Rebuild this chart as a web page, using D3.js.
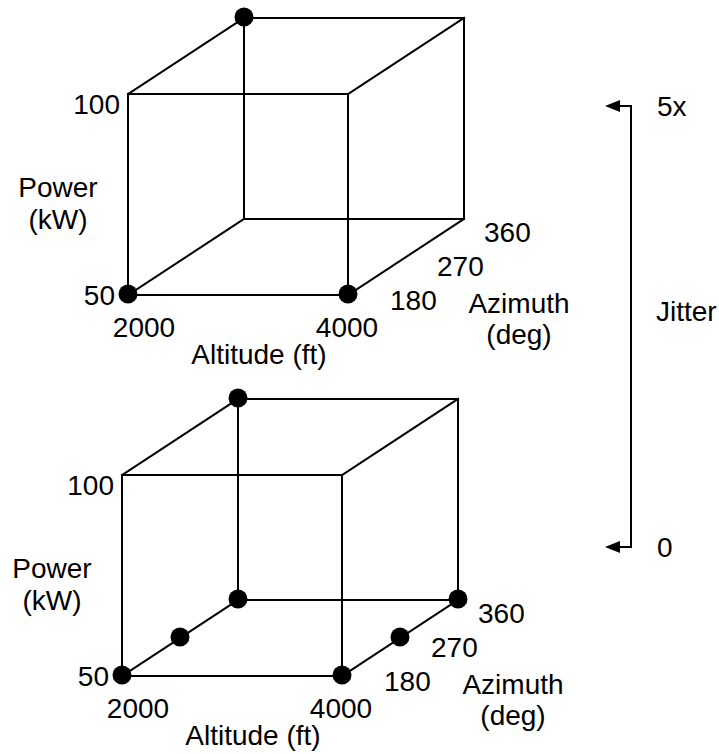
<!DOCTYPE html>
<html>
<head>
<meta charset="utf-8">
<script src="https://cdn.jsdelivr.net/npm/d3@7"></script>
<style>
  html, body { margin: 0; padding: 0; background: #fff; }
  svg { display: block; }
  text { font-family: "Liberation Sans", Arial, Helvetica, sans-serif; font-size: 28px; fill: #000; }
</style>
</head>
<body>
<svg id="chart" width="719" height="754"></svg>
<script>
// ---- data ----
const altitudeTicks = [2000, 4000];
const powerTicks = [50, 100];
const azimuthTicks = [180, 270, 360];
const jitterTicks = [0, 5];
const jitterLabels = ["0", "5x"];

// top cube (jitter 5x)
const topAltitude = [2000, 2000, 4000];
const topAzimuth  = [360, 180, 180];
const topPower    = [100, 50, 50];

// bottom cube (jitter 0)
const bottomAltitude = [2000, 2000, 2000, 2000, 4000, 4000, 4000];
const bottomAzimuth  = [360, 180, 270, 360, 180, 270, 360];
const bottomPower    = [100, 50, 50, 50, 50, 50, 50];

// ---- drawing ----
const svg = d3.select("#chart");
svg.append("rect").attr("width", 719).attr("height", 754).attr("fill", "#fff");

const xAlt = d3.scaleLinear().domain([2000, 4000]).range([0, 220]);
const yPow = d3.scaleLinear().domain([50, 100]).range([0, -201]);
const dAz  = d3.scaleLinear().domain([180, 360]).range([0, 1]);
const depthVec = [116, -76];

function drawCube(ox, oy, alts, azs, pows) {
  const g = svg.append("g");
  const P = (alt, az, pw) => [ox + xAlt(alt) + dAz(az) * depthVec[0],
                              oy + yPow(pw) + dAz(az) * depthVec[1]];
  const A = xAlt.domain(), Z = dAz.domain(), W = yPow.domain();
  const edges = [];
  // edges along altitude
  for (const z of Z) for (const w of W) edges.push([P(A[0], z, w), P(A[1], z, w)]);
  // edges along power
  for (const a of A) for (const z of Z) edges.push([P(a, z, W[0]), P(a, z, W[1])]);
  // edges along azimuth
  for (const a of A) for (const w of W) edges.push([P(a, Z[0], w), P(a, Z[1], w)]);

  g.selectAll("line.edge").data(edges).enter().append("line")
    .attr("x1", d => d[0][0]).attr("y1", d => d[0][1])
    .attr("x2", d => d[1][0]).attr("y2", d => d[1][1])
    .attr("stroke", "#000").attr("stroke-width", 2).attr("stroke-linecap", "square");

  const pts = alts.map((a, i) => P(a, azs[i], pows[i]));
  g.selectAll("circle").data(pts).enter().append("circle")
    .attr("cx", d => d[0]).attr("cy", d => d[1] - 1).attr("r", 9.5).attr("fill", "#000");

  // power ticks
  g.selectAll("text.pw").data(powerTicks).enter().append("text")
    .attr("text-anchor", "end")
    .attr("x", d => P(A[0], Z[0], d)[0] + (d === W[0] ? -13 : -8))
    .attr("y", d => P(A[0], Z[0], d)[1] + (d === W[0] ? 10 : 20))
    .text(d => d);
  // power title
  g.append("text").attr("text-anchor", "middle").attr("x", ox - 70).attr("y", oy - 98).text("Power");
  g.append("text").attr("text-anchor", "middle").attr("x", ox - 70).attr("y", oy - 66).text("(kW)");

  // altitude ticks
  g.selectAll("text.alt").data(altitudeTicks).enter().append("text")
    .attr("text-anchor", "middle")
    .attr("x", d => P(d, Z[0], W[0])[0] + 16 - 17 * (d - A[0]) / (A[1] - A[0]))
    .attr("y", d => P(d, Z[0], W[0])[1] + 42)
    .text(d => d);
  g.append("text").attr("text-anchor", "middle").attr("x", ox + 131).attr("y", oy + 69).text("Altitude (ft)");

  // azimuth ticks
  const fr = P(A[1], Z[0], W[0]);
  g.selectAll("text.az").data(azimuthTicks).enter().append("text")
    .attr("text-anchor", "start")
    .attr("x", d => { const t = dAz(d); return P(A[1], d, W[0])[0] + 42 - 22 * t; })
    .attr("y", d => { const t = dAz(d); return P(A[1], d, W[0])[1] + 15 + 7.5 * t; })
    .text(d => d);
  g.append("text").attr("text-anchor", "middle").attr("x", fr[0] + 171).attr("y", fr[1] + 18).text("Azimuth");
  g.append("text").attr("text-anchor", "middle").attr("x", fr[0] + 171).attr("y", fr[1] + 49).text("(deg)");
}

drawCube(128, 295, topAltitude, topAzimuth, topPower);
drawCube(122, 676, bottomAltitude, bottomAzimuth, bottomPower);

// jitter axis
const yJit = d3.scaleLinear().domain([0, 5]).range([547, 106]);
const jx = 631;
const jg = svg.append("g");
jg.append("line").attr("x1", jx).attr("x2", jx)
  .attr("y1", yJit(5)).attr("y2", yJit(0))
  .attr("stroke", "#000").attr("stroke-width", 2).attr("stroke-linecap", "square");
jitterTicks.forEach((v, i) => {
  const y = yJit(v);
  jg.append("line").attr("x1", jx).attr("x2", 618).attr("y1", y).attr("y2", y)
    .attr("stroke", "#000").attr("stroke-width", 2);
  jg.append("path").attr("d", `M605,${y} L620,${y - 6} L620,${y + 6} Z`).attr("fill", "#000");
  jg.append("text").attr("x", 657).attr("y", y + 10).text(jitterLabels[i]);
});
jg.append("text").attr("x", 656).attr("y", (yJit(0) + yJit(5)) / 2 - 6).text("Jitter");
</script>
</body>
</html>
